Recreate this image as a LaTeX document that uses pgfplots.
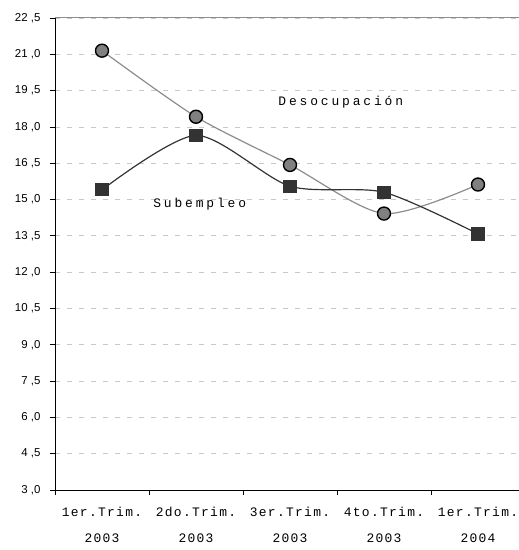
\documentclass[border=0pt]{standalone}
\usepackage{fontspec}
\setmainfont{Liberation Sans}
\newfontfamily\monofont{Liberation Mono}[LetterSpace=10]
\newfontfamily\monowide{Liberation Mono}[LetterSpace=22]
\usepackage{pgfplots}
\pgfplotsset{compat=1.18}
\definecolor{desoc}{HTML}{8C8C8C}
\definecolor{desocfill}{HTML}{808080}
\definecolor{subem}{HTML}{333333}
\definecolor{gridc}{HTML}{C8C8C8}
\begin{document}
\begin{tikzpicture}
\useasboundingbox (-55bp,-60bp) rectangle (464bp,490bp);
\begin{axis}[
    scale only axis,
    width=470bp, height=472bp,
    xmin=-0.5, xmax=4.5,
    ymin=3, ymax=22.5,
    axis x line*=bottom, axis y line*=left,
    axis line style={black, line width=1pt},
    xtick={-0.5,0.5,1.5,2.5,3.5},
    xticklabels={},
    extra x ticks={0,1,2,3,4},
    extra x tick style={major tick length=0pt, grid=none},
    extra x tick labels={{1er.Trim.\\2003},{2do.Trim.\\2003},{3er.Trim.\\2003},{4to.Trim.\\2003},{1er.Trim.\\2004}},
    x tick label style={font=\monofont\fontsize{13}{26}\selectfont, align=center, yshift=-14bp},
    ytick={3,4.5,...,22.5},
    yticklabels={{3 ,0},{4 ,5},{6 ,0},{7 ,5},{9 ,0},{10 ,5},{12 ,0},{13 ,5},{15 ,0},{16 ,5},{18 ,0},{19 ,5},{21 ,0},{22 ,5}},
    y tick label style={font=\fontsize{11.5}{13}\selectfont, xshift=-6bp},
    tick align=outside,
    major tick length=5bp,
    tick style={black, line width=0.8pt},
    ymajorgrids,
    grid style={gridc, dash pattern=on 5bp off 7bp, line width=0.8pt},
    clip=false,
]
\addplot[desoc, line width=1.2pt, smooth, tension=0.45, mark=*, mark size=6.5bp,
    mark options={fill=desocfill, draw=black, line width=1.4pt}]
    coordinates {(0,21.15) (1,18.42) (2,16.43) (3,14.42) (4,15.62)};
\addplot[subem, line width=1.2pt, smooth, tension=0.45, mark=square*, mark size=6bp,
    mark options={fill=subem, draw=subem}]
    coordinates {(0,15.4) (1,17.65) (2,15.55) (3,15.3) (4,13.58)};
\draw[desoc, line width=1pt] (rel axis cs:0,1) -- (rel axis cs:1,1);
\node[font=\monowide\fontsize{13}{15}\selectfont] at (axis cs:2.54,19.03) {Desocupación};
\node[font=\monowide\fontsize{13}{15}\selectfont] at (axis cs:1.04,14.81) {Subempleo};
\end{axis}
\end{tikzpicture}
\end{document}
